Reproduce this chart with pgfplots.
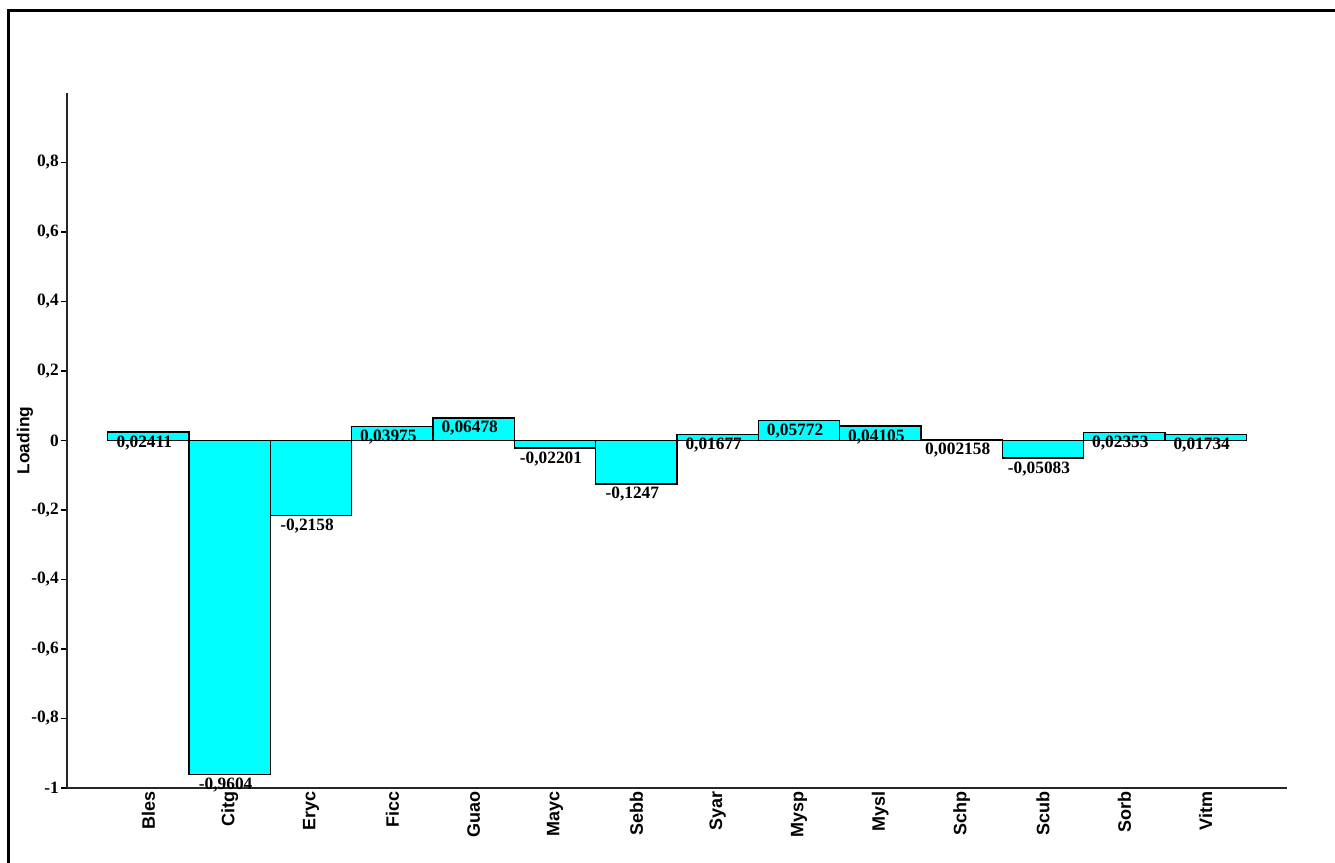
\documentclass[border=0pt]{standalone}
\usepackage{fontspec}
\setmainfont{Liberation Serif}
\newfontfamily\arialfont{Liberation Sans}
\usepackage{pgfplots}
\usepackage{pgfplotstable}
\pgfplotsset{compat=1.18}
\definecolor{barcyan}{RGB}{0,255,255}

% loadings per taxon, label column is the printed value
\pgfplotstableread{
x  y         label
0  0.02411   0,02411
1  -0.9604   -0,9604
2  -0.2158   -0,2158
3  0.03975   0,03975
4  0.06478   0,06478
5  -0.02201  -0,02201
6  -0.1247   -0,1247
7  0.01677   0,01677
8  0.05772   0,05772
9  0.04105   0,04105
10 0.002158  0,002158
11 -0.05083  -0,05083
12 0.02353   0,02353
13 0.01734   0,01734
}\loadings

\begin{document}
\begin{tikzpicture}
\begin{axis}[
    at={(0pt,0pt)}, anchor=south west,
    scale only axis,
    width=915pt, height=521.25pt,
    xmin=-1, xmax=14, ymin=-1, ymax=1,
    axis x line=bottom, axis y line=left,
    axis line style={-, black!85, line width=1.3pt},
    ybar, bar width=1,
    xtick={0,...,13},
    xticklabels={Bles,Citg,Eryc,Ficc,Guao,Mayc,Sebb,Syar,Mysp,Mysl,Schp,Scub,Sorb,Vitm},
    xtick style={draw=none},
    xticklabel shift=-3pt,
    xticklabel style={rotate=90, anchor=east, inner sep=1pt,
        font=\arialfont\bfseries\fontsize{13.5}{13.5}\selectfont},
    ytick={-1,-0.8,-0.6,-0.4,-0.2,0,0.2,0.4,0.6,0.8},
    yticklabels={{-1},{-0,8},{-0,6},{-0,4},{-0,2},{0},{0,2},{0,4},{0,6},{0,8}},
    yticklabel style={font=\bfseries\fontsize{13}{13}\selectfont, inner sep=1.5pt},
    ytick style={black, line width=0.8pt},
    tick align=outside, major tick length=4.5pt,
    ylabel={Loading},
    ylabel style={font=\arialfont\bfseries\fontsize{13}{13}\selectfont,
        at={(axis description cs:-0.0344,0.5)}, anchor=center},
]
\addplot[fill=barcyan, draw=black, line width=1.1pt,
    nodes near coords, point meta=explicit symbolic,
    nodes near coords style={anchor=north, xshift=-3pt, inner sep=2pt,
        font=\bfseries\fontsize{13}{13}\selectfont}]
    table[x=x, y=y, meta=label] {\loadings};
\end{axis}
\begin{scope}[x=0.75pt, y=0.75pt]
\draw[line width=2.25pt] (-58.5,-90) -- (-58.5,777.5) -- (1290,777.5);
\pgfresetboundingbox
\useasboundingbox (-67,-75) rectangle (1268,788);
\end{scope}
\end{tikzpicture}
\end{document}
